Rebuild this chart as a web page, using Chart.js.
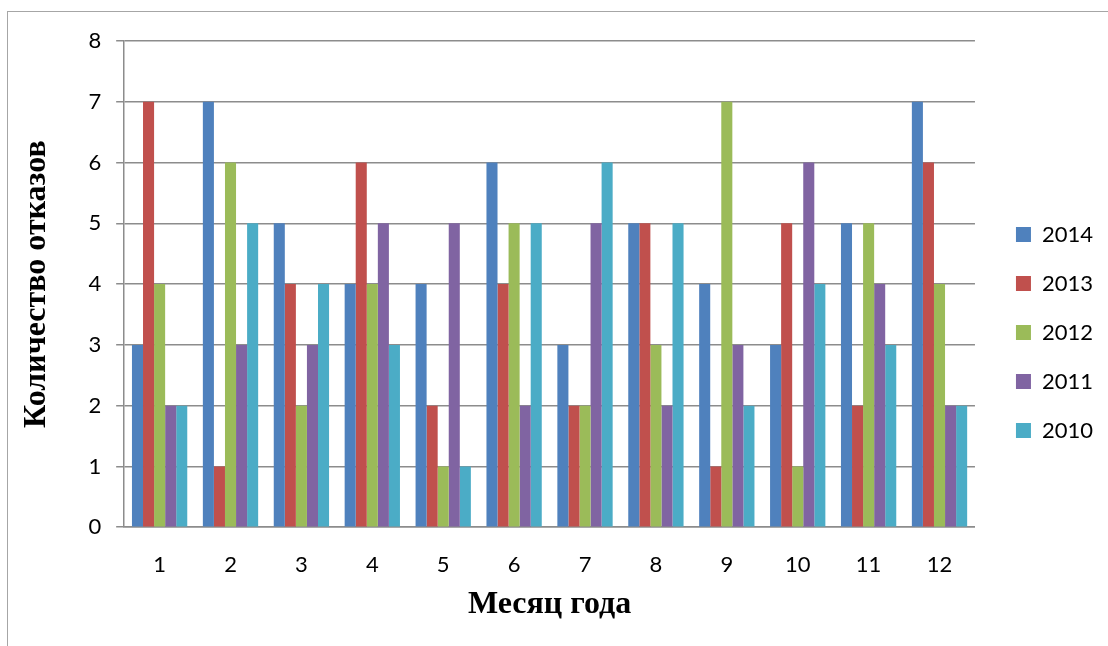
<!DOCTYPE html>
<html>
<head>
<meta charset="utf-8">
<script src="https://cdn.jsdelivr.net/npm/chart.js@4.4.1/dist/chart.umd.min.js"></script>
<style>
  html, body { margin: 0; padding: 0; background: #fff; }
  #wrap { position: relative; width: 1108px; height: 646px; overflow: hidden; }
  #frame { position: absolute; left: 7px; top: 11px; width: 1200px; height: 700px;
           border-top: 1px solid #a6a6a6; border-left: 1px solid #a6a6a6; }
  #box { position: absolute; left: 0; top: 0; width: 1108px; height: 646px; }
</style>
</head>
<body>
<div id="wrap">
  <div id="frame"></div>
  <div id="box"><canvas id="chart"></canvas></div>
</div>
<script>
// months and yearly failure counts
const months = ['1', '2', '3', '4', '5', '6', '7', '8', '9', '10', '11', '12'];
const years = ['2014', '2013', '2012', '2011', '2010'];
const v2014 = [3, 7, 5, 4, 4, 6, 3, 5, 4, 3, 5, 7];
const v2013 = [7, 1, 4, 6, 2, 4, 2, 5, 1, 5, 2, 6];
const v2012 = [4, 6, 2, 4, 1, 5, 2, 3, 7, 1, 5, 4];
const v2011 = [2, 3, 3, 5, 5, 2, 5, 2, 3, 6, 4, 2];
const v2010 = [2, 5, 4, 3, 1, 5, 6, 5, 2, 4, 3, 2];
const colors = ['#4F81BD', '#C0504D', '#9BBB59', '#8064A2', '#4BACC6'];

const series = [v2014, v2013, v2012, v2011, v2010];
const gridColor = '#8c8c8c';
const sans = 'Lato, "Open Sans", sans-serif';
const serif = '"Liberation Serif", "DejaVu Serif", serif';
const legendGap = 14; // extra room between plot and legend

// widen the legend box but keep its items where they were
const legendShift = {
    id: 'legendShift',
    afterInit(chart) {
        const lg = chart.legend;
        const fit = lg.fit;
        lg.fit = function () {
            fit.call(this);
            this.width += legendGap;
        };
    },
    afterLayout(chart) {
        chart.legend.left += legendGap;
    }
};

const ctx = document.getElementById('chart').getContext('2d');
new Chart(ctx, {
    type: 'bar',
    data: {
        labels: months,
        datasets: series.map((d, i) => ({
            label: years[i],
            data: d,
            backgroundColor: colors[i],
            borderWidth: 0,
            barPercentage: 1,
            categoryPercentage: 0.78
        }))
    },
    options: {
        responsive: true,
        maintainAspectRatio: false,
        animation: false,
        layout: { padding: { top: 41, right: 5, bottom: 22, left: 18 } },
        plugins: {
            tooltip: { enabled: false },
            legend: {
                position: 'right',
                labels: {
                    color: '#000',
                    font: { family: sans, size: 22 },
                    boxWidth: 15,
                    boxHeight: 15,
                    padding: 27
                }
            }
        },
        scales: {
            x: {
                grid: { display: false, drawTicks: false },
                border: { display: true, color: gridColor, width: 1.5 },
                ticks: { color: '#000', font: { family: sans, size: 22 }, padding: 25 },
                title: {
                    display: true,
                    text: 'Месяц года',
                    color: '#000',
                    font: { family: serif, size: 32, weight: 'bold' },
                    padding: { top: -18, bottom: 0 }
                }
            },
            y: {
                min: 0,
                max: 8,
                ticks: { stepSize: 1, color: '#000', font: { family: sans, size: 22 }, padding: 15 },
                grid: { color: gridColor, lineWidth: 1.5, tickLength: 8 },
                border: { display: true, color: gridColor, width: 1.5 },
                title: {
                    display: true,
                    text: 'Количество отказов',
                    color: '#000',
                    font: { family: serif, size: 32, weight: 'bold' },
                    padding: { top: 0, bottom: 17 }
                }
            }
        }
    },
    plugins: [legendShift]
});
</script>
</body>
</html>
